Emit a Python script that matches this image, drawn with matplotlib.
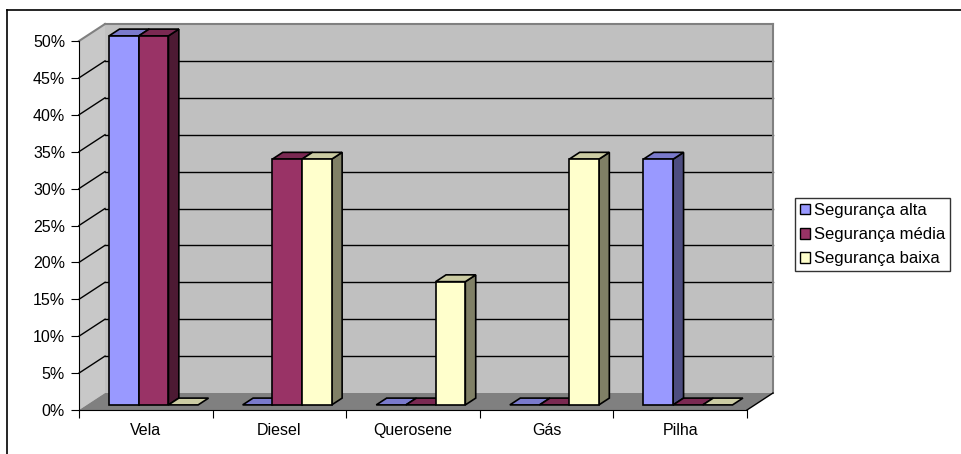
import matplotlib
matplotlib.use("Agg")
import matplotlib.pyplot as plt
import matplotlib.transforms as mtransforms
from matplotlib.patches import Polygon, Patch
from matplotlib.lines import Line2D
from matplotlib.ticker import PercentFormatter, FixedLocator

plt.rcParams['font.family'] = ['Liberation Sans', 'DejaVu Sans']
plt.rcParams['font.size'] = 11

# data
categories = ["Vela", "Diesel", "Querosene", "Gás", "Pilha"]
series = ["Segurança alta", "Segurança média", "Segurança baixa"]
alta = [0.50, 0.0, 0.0, 0.0, 0.333]
media = [0.50, 0.333, 0.0, 0.0, 0.0]
baixa = [0.0, 0.333, 0.167, 0.333, 0.0]
values = [alta, media, baixa]

front_cols = ["#9999ff", "#993366", "#ffffcc"]
top_cols = ["#7a7acc", "#7a2952", "#cccca3"]
side_cols = ["#4d4d80", "#4d1a33", "#808066"]

# depth of the 3d box in pixels
DX, DY = 26, 17
F0, F1 = 0.3, 0.7   # bar front / back depth fraction

fig = plt.figure(figsize=(9.62, 4.54), dpi=100)
ax = fig.add_axes([79 / 962, 44 / 454, 668 / 962, 369 / 454])
ax.set_xlim(0, len(categories))
ax.set_ylim(0, 0.5)
ax.patch.set_visible(False)
for s in ["top", "right"]:
    ax.spines[s].set_visible(False)
ax.spines["left"].set_color("black")
ax.spines["bottom"].set_color("black")
ax.spines["left"].set_zorder(5)
ax.spines["bottom"].set_zorder(5)

ax.yaxis.set_major_locator(FixedLocator([i * 0.05 for i in range(11)]))
ax.yaxis.set_major_formatter(PercentFormatter(1.0, decimals=0))
ax.tick_params(axis="y", length=6, pad=4, labelsize=11.5)
ax.set_xticks(range(len(categories) + 1))
ax.set_xticklabels([])
ax.set_xticks([i + 0.5 for i in range(len(categories))], minor=True)
ax.set_xticklabels(categories, minor=True)
ax.tick_params(axis="x", which="major", length=6)
ax.tick_params(axis="x", which="minor", length=0, pad=18, labelsize=11.5)
for lbl in ax.get_xticklabels(minor=True):
    lbl.set_verticalalignment("baseline")

ident = mtransforms.IdentityTransform()


def proj(x, y, d):
    px, py = ax.transData.transform((x, y))
    return (px + d * DX, py + d * DY)


def face(pts, color, z, ec="none", lw=0.0):
    ax.add_patch(Polygon(pts, closed=True, facecolor=color, edgecolor=ec,
                         linewidth=lw, transform=ident, clip_on=False, zorder=z))


def line(p, q, color, z, lw=1.0):
    ax.add_line(Line2D([p[0], q[0]], [p[1], q[1]], color=color, linewidth=lw,
                       transform=ident, clip_on=False, zorder=z))


n = len(categories)
ymax = 0.5

# walls and floor
face([proj(0, 0, 1), proj(n, 0, 1), proj(n, ymax, 1), proj(0, ymax, 1)], "#c0c0c0", 0.5)
face([proj(0, 0, 0), proj(0, 0, 1), proj(0, ymax, 1), proj(0, ymax, 0)], "#c8c8c8", 0.5)
face([proj(0, 0, 0), proj(n, 0, 0), proj(n, 0, 1), proj(0, 0, 1)], "#808080", 0.6)

# gridlines
for k in range(1, 10):
    v = k * 0.05
    line(proj(0, v, 0), proj(0, v, 1), "black", 0.8)
    line(proj(0, v, 1), proj(n, v, 1), "black", 0.8)
line(proj(0, ymax, 0), proj(0, ymax, 1), "#808080", 0.8, 1.5)
line(proj(0, ymax, 1), proj(n, ymax, 1), "#808080", 0.8, 1.5)
line(proj(n, ymax, 1), proj(n, 0, 1), "#808080", 0.8, 1.5)
line(proj(n, 0, 0), proj(n, 0, 1), "black", 0.8)

# bars
w = 1 / 4.5
z = 2
for i in range(n):
    for j in range(len(series)):
        h = values[j][i]
        x0 = i + 0.75 * w + j * w
        x1 = x0 + w
        ec = "black"
        if h <= 0:
            face([proj(x0, 0, F0), proj(x1, 0, F0), proj(x1, 0, F1), proj(x0, 0, F1)],
                 top_cols[j], z, ec, 1.2)
        else:
            face([proj(x1, 0, F0), proj(x1, 0, F1), proj(x1, h, F1), proj(x1, h, F0)],
                 side_cols[j], z, ec, 1.2)
            face([proj(x0, h, F0), proj(x1, h, F0), proj(x1, h, F1), proj(x0, h, F1)],
                 top_cols[j], z, ec, 1.2)
            face([proj(x0, 0, F0), proj(x1, 0, F0), proj(x1, h, F0), proj(x0, h, F0)],
                 front_cols[j], z + 0.1, ec, 1.2)
        z += 0.2

# legend
handles = [Patch(facecolor=front_cols[j], edgecolor="black", linewidth=1.0) for j in range(3)]
leg = fig.legend(handles, series, loc="upper left",
                 bbox_to_anchor=(795 / 962, 1 - 198 / 454), fontsize=12,
                 frameon=True, fancybox=False, shadow=False,
                 handlelength=0.6, handleheight=0.6, handletextpad=0.25,
                 labelspacing=0.55, borderpad=0.3, borderaxespad=0)
leg.get_frame().set_edgecolor("black")
leg.get_frame().set_linewidth(1.0)

# outer chart border
fig.add_artist(Line2D([7.5 / 962, 7.5 / 962], [0, 444 / 454], color="black",
                      linewidth=1.2, transform=fig.transFigure))
fig.add_artist(Line2D([7.5 / 962, 1], [444 / 454, 444 / 454], color="black",
                      linewidth=1.2, transform=fig.transFigure))

fig.savefig("out.png", dpi=100)
